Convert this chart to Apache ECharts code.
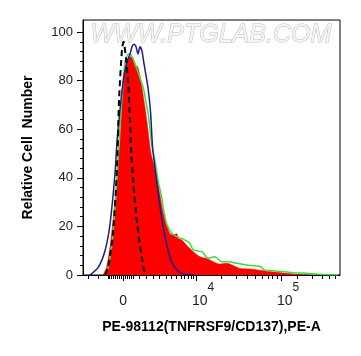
<!DOCTYPE html>
<html>
<head>
<meta charset="utf-8">
<script src="https://cdn.jsdelivr.net/npm/echarts@6/dist/echarts.min.js"></script>
<style>
  html, body { margin: 0; padding: 0; background: #fff; }
  #chart { width: 361px; height: 356px; }
</style>
</head>
<body>
<div id="chart"></div>
<script>
// x is in display units of the biexponential axis (0 -> 0, 10^4 -> 85.9, 10^5 -> 185.9)
const sampleCurve = [
  [-23.5, 0], [-19.2, 3.4], [-15.3, 11.6], [-11.4, 24], [-7.4, 39], [-3.5, 55],
  [-1.5, 69], [0.4, 82], [4.4, 87], [8.2, 90], [11.8, 89], [14.1, 86], [16.5, 86],
  [20, 82], [22.4, 77], [25.9, 69], [28.2, 63], [30.6, 56], [32.9, 50], [36.5, 45],
  [40, 40], [43.5, 33], [47.1, 26], [51.4, 20.6], [55.3, 17], [59.2, 16.5],
  [63.2, 17], [65.1, 15], [69.1, 14.4], [74.9, 12.3], [82.7, 9.6], [90.6, 7.5],
  [98.5, 6.8], [106.2, 5.5], [114.1, 4.5], [122, 4.8], [137.6, 2.7], [149.4, 2.5],
  [161.2, 2], [172.9, 1.4], [180.8, 1.1], [192.6, 0.7], [200.4, 0.4], [212.1, 0.1],
  [220, 0]
];
const greenCurve = [
  [-21.2, 0], [-17.6, 3], [-14.1, 10], [-10.6, 22], [-7.1, 40], [-4.7, 56],
  [-1.8, 70], [0.4, 80], [2.4, 88], [6.2, 91], [8.2, 91], [11.8, 89], [16.1, 85],
  [20, 81], [23.9, 77], [27.1, 71], [29.8, 66], [33.8, 53.5], [37.6, 47], [41.2, 39],
  [45.5, 32], [48.2, 26], [51.4, 21], [57.3, 17.2], [63.2, 15.8], [69.1, 15],
  [72.9, 14.4], [78.8, 13], [82.7, 10.3], [92.6, 9.6], [100.4, 6.9], [108.2, 7.5],
  [116.1, 5.5], [123.9, 5.5], [133.8, 4.8], [145.5, 4.1], [161.2, 3.5], [167.1, 2],
  [176.8, 1.8], [188.6, 1.4], [200.4, 0.9], [216.1, 0.7], [227.9, 0.4], [243.5, 0.1],
  [252.9, 0]
];
const navyCurve = [
  [-38.8, 0], [-29.4, 3], [-21.2, 10], [-15.3, 21], [-9.4, 42], [-7.1, 55],
  [-5.3, 62], [-1.5, 75], [1.2, 82], [4.7, 88], [8.2, 91], [10.6, 94], [12.9, 95],
  [15.3, 94], [17.6, 91], [20, 94], [22.4, 92], [24.7, 87], [27.1, 82], [29.4, 77],
  [32.4, 67], [34.7, 53], [37.6, 44], [42.4, 31], [47.1, 20], [51.8, 12], [57.6, 5],
  [67.1, 1], [84.7, 0]
];
const controlCurve = [
  [-21.2, 0], [-17.6, 3], [-11.8, 17], [-7.1, 44], [-4.7, 72], [-1.2, 93],
  [0.6, 96], [3.5, 89], [5.9, 80], [8.2, 64], [9.6, 51], [12.1, 38], [16.1, 23],
  [18.8, 15], [22.7, 6], [24.7, 2], [28.2, 0]
];

const xMajorValues = [0, 85.9, 185.9];
const xMajorLabels = ['0', '10^4', '10^5'];
const xMinorValues = [
  -41.2, -29.4, -17.6, -16.5, -14.1, -11.8, -9.4, -7.1, -4.7, -2.4, 2.4, 4.7, 7.1,
  9.4, 11.8, 19.6, 27.1, 35.3, 43.2, 50.6, 56.5, 62.4, 68.2, 72.6, 76.5, 80, 82.9,
  116, 133.6, 146.1, 155.8, 163.6, 170.4, 176.1, 181.3,
  204.7, 222.4, 234.1, 242.4, 249.4
];
const yMajorValues = [0, 20, 40, 60, 80, 100];
const yMinorValues = [
  4, 8, 12, 16, 24, 28, 32, 36, 44, 48, 52, 56, 64, 68, 72, 76, 84, 88, 92, 96
];

const xMin = -47.1, xMax = 255.3;
const yMin = 0, yMax = 105;

const chart = echarts.init(document.getElementById('chart'), null, { renderer: 'canvas' });

const font = 'Arial, "Liberation Sans", sans-serif';

function xLabel(v) {
  let i = xMajorValues.findIndex(m => Math.abs(m - v) < 0.01);
  if (i < 0) return '';
  let t = xMajorLabels[i];
  if (t.indexOf('^') >= 0) {
    let p = t.split('^');
    return '{e|' + p[0] + '}{s|' + p[1] + '}';
  }
  return '{b|' + t + '}';
}

const option = {
  animation: false,
  backgroundColor: '#fff',
  grid: {
    left: 83, right: 21, top: 20, bottom: 81,
    show: true, borderColor: '#000', borderWidth: 1, backgroundColor: 'transparent'
  },
  graphic: [{
    type: 'text',
    left: 90, top: 22, z: 0, silent: true,
    style: {
      text: 'WWW.PTGLAB.COM',
      font: 'italic 25px ' + font,
      fill: '#f4f4f4',
      stroke: '#bdbdbd',
      lineWidth: 1
    }
  }],
  xAxis: [{
    type: 'value',
    min: xMin, max: xMax,
    name: 'PE-98112(TNFRSF9/CD137),PE-A',
    nameLocation: 'middle',
    nameGap: 45,
    nameTextStyle: { fontFamily: font, fontSize: 14, fontWeight: 'bold', color: '#000' },
    axisLine: { show: true, onZero: false, lineStyle: { color: '#000', width: 1 } },
    splitLine: { show: false },
    axisTick: { show: true, length: 6, customValues: xMajorValues, lineStyle: { color: '#000' } },
    axisLabel: {
      customValues: xMajorValues,
      margin: 7,
      formatter: xLabel,
      rich: {
        b: { fontFamily: font, fontSize: 14, color: '#222', lineHeight: 26, verticalAlign: 'bottom' },
        e: { fontFamily: font, fontSize: 14, color: '#222', lineHeight: 26, verticalAlign: 'bottom', padding: [0, 0, 0, 14] },
        s: { fontFamily: font, fontSize: 12, color: '#222', verticalAlign: 'top' }
      }
    }
  }, {
    type: 'value',
    min: xMin, max: xMax,
    position: 'bottom',
    axisLine: { show: false, onZero: false },
    splitLine: { show: false },
    axisLabel: { show: false },
    axisTick: { show: true, length: 4, customValues: xMinorValues, lineStyle: { color: '#000' } }
  }],
  yAxis: [{
    type: 'value',
    min: yMin, max: yMax,
    position: 'left',
    name: 'Relative Cell  Number',
    nameLocation: 'middle',
    nameGap: 48,
    nameTextStyle: { fontFamily: font, fontSize: 14, fontWeight: 'bold', color: '#000' },
    axisLine: { show: true, onZero: false, lineStyle: { color: '#000', width: 1 } },
    splitLine: { show: false },
    axisTick: { show: true, length: 6, customValues: yMajorValues, lineStyle: { color: '#000' } },
    axisLabel: {
      customValues: yMajorValues,
      margin: 10,
      fontFamily: font, fontSize: 13, color: '#222'
    }
  }, {
    type: 'value',
    min: yMin, max: yMax,
    position: 'left',
    axisLine: { show: false, onZero: false },
    splitLine: { show: false },
    axisLabel: { show: false },
    axisTick: { show: true, length: 3, customValues: yMinorValues, lineStyle: { color: '#000' } }
  }],
  series: [{
    type: 'line',
    data: sampleCurve,
    smooth: 0.25,
    showSymbol: false,
    lineStyle: { width: 0.5, color: '#ff0000' },
    areaStyle: { color: '#ff0000', opacity: 1 },
    z: 2
  }, {
    type: 'line',
    data: greenCurve,
    smooth: 0.25,
    showSymbol: false,
    lineStyle: { width: 1.5, color: '#3ddc3d' },
    z: 3
  }, {
    type: 'line',
    data: navyCurve,
    smooth: 0.25,
    showSymbol: false,
    lineStyle: { width: 1.5, color: '#1c1c8c' },
    z: 4
  }, {
    type: 'line',
    data: controlCurve,
    smooth: 0.25,
    showSymbol: false,
    lineStyle: { width: 2, color: '#000', type: [6, 4] },
    z: 5
  }]
};

chart.setOption(option);
</script>
</body>
</html>
